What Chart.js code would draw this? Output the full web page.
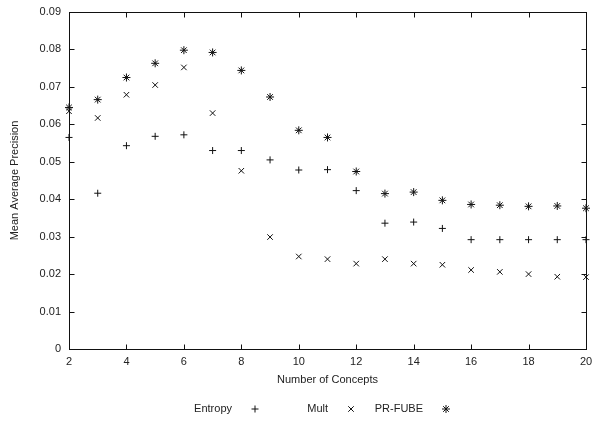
<!DOCTYPE html>
<html>
<head>
<meta charset="utf-8">
<script src="https://cdn.jsdelivr.net/npm/chart.js@4.4.1/dist/chart.umd.min.js"></script>
<style>
	body { margin: 0; background: #fff; }
	#chart { display: block; }
</style>
</head>
<body>
<canvas id="chart" width="592" height="421"></canvas>
<script>
var concepts = [2, 3, 4, 5, 6, 7, 8, 9, 10, 11, 12, 13, 14, 15, 16, 17, 18, 19, 20];
var entropy = [0.0565, 0.0416, 0.0543, 0.0568, 0.0572, 0.0530, 0.0530, 0.0505, 0.0478, 0.0479,
	0.0423, 0.0336, 0.0339, 0.0322, 0.0292, 0.0292, 0.0292, 0.0292, 0.0292];
var mult = [0.0635, 0.0617, 0.0679, 0.0705, 0.0752, 0.0630, 0.0476, 0.0299, 0.0247, 0.0240,
	0.0228, 0.0240, 0.0228, 0.0225, 0.0211, 0.0206, 0.0200, 0.0193, 0.0192];
var prFube = [0.0645, 0.0666, 0.0725, 0.0763, 0.0798, 0.0792, 0.0744, 0.0673, 0.0584, 0.0565,
	0.0474, 0.0415, 0.0419, 0.0397, 0.0386, 0.0384, 0.0381, 0.0382, 0.0376];
var seriesNames = ["Entropy", "Mult", "PR-FUBE"];
var xTicks = [2, 4, 6, 8, 10, 12, 14, 16, 18, 20];
var yTicks = [0, 0.01, 0.02, 0.03, 0.04, 0.05, 0.06, 0.07, 0.08, 0.09];

var FONT = "Liberation Sans, Arial, sans-serif";
var styles = ["cross", "crossRot", "star"];
var radii = [3.5, 3.9, 4];

function toPoints(values) {
	return concepts.map(function (c, i) {
		return { x: c, y: values[i] };
	});
}

// gnuplot-like frame: box border with inward ticks on every side, plus titles and key
var framePlugin = {
	id: "frame",
	afterDraw: function (chart) {
		var ctx = chart.ctx;
		var a = chart.chartArea;
		var xs = chart.scales.x;
		var ys = chart.scales.y;
		var L = Math.round(a.left) + 0.5, R = Math.round(a.right) + 0.5;
		var T = Math.round(a.top) + 0.5, B = Math.round(a.bottom) + 0.5;
		ctx.save();
		ctx.strokeStyle = "#111";
		ctx.lineWidth = 1;
		ctx.strokeRect(L, T, R - L, B - T);
		ctx.beginPath();
		xTicks.forEach(function (v) {
			var px = Math.round(xs.getPixelForValue(v)) + 0.5;
			ctx.moveTo(px, B); ctx.lineTo(px, B - 5);
			ctx.moveTo(px, T); ctx.lineTo(px, T + 5);
		});
		yTicks.forEach(function (v) {
			var py = Math.round(ys.getPixelForValue(v)) + 0.5;
			ctx.moveTo(L, py); ctx.lineTo(L + 5, py);
			ctx.moveTo(R, py); ctx.lineTo(R - 5, py);
		});
		ctx.stroke();

		ctx.fillStyle = "#222";
		ctx.font = "11px " + FONT;
		ctx.textAlign = "center";
		ctx.textBaseline = "middle";
		ctx.fillText("Number of Concepts", (a.left + a.right) / 2, 380);
		ctx.save();
		ctx.translate(15, (a.top + a.bottom) / 2);
		ctx.rotate(-Math.PI / 2);
		ctx.fillText("Mean Average Precision", 0, 0);
		ctx.restore();

		// key: name right-aligned, then the marker
		var keyX = [255, 351, 446];
		var keyY = 409;
		ctx.textAlign = "right";
		seriesNames.forEach(function (name, i) {
			ctx.fillStyle = "#222";
			ctx.fillText(name, keyX[i] - 23, keyY);
			ctx.strokeStyle = "#111";
			ctx.lineWidth = 1;
			Chart.helpers.drawPoint(ctx, {
				pointStyle: styles[i],
				radius: radii[i],
				rotation: 0,
				borderWidth: 1
			}, keyX[i], keyY);
		});
		ctx.restore();
	}
};

var datasets = [entropy, mult, prFube].map(function (values, i) {
	return {
		label: seriesNames[i],
		data: toPoints(values),
		showLine: false,
		pointStyle: styles[i],
		pointRadius: radii[i],
		pointBorderWidth: 1,
		pointBorderColor: "#111",
		pointBackgroundColor: "#111",
		clip: false
	};
});

new Chart(document.getElementById("chart"), {
	type: "scatter",
	data: { datasets: datasets },
	options: {
		responsive: false,
		animation: false,
		events: [],
		layout: { padding: { top: 12, right: 6, left: 0, bottom: 0 } },
		plugins: {
			legend: { display: false },
			tooltip: { enabled: false }
		},
		scales: {
			x: {
				type: "linear",
				min: 2,
				max: 20,
				afterBuildTicks: function (scale) {
					scale.ticks = xTicks.map(function (v) { return { value: v }; });
				},
				afterFit: function (scale) {
					scale.height = 72;
					scale.paddingLeft = 0;
					scale.paddingRight = 0;
				},
				grid: { display: false, drawTicks: false },
				border: { display: false },
				ticks: {
					padding: 6,
					color: "#222",
					font: { family: FONT, size: 11 },
					maxRotation: 0,
					autoSkip: false
				}
			},
			y: {
				type: "linear",
				min: 0,
				max: 0.09,
				afterBuildTicks: function (scale) {
					scale.ticks = yTicks.map(function (v) { return { value: v }; });
				},
				afterFit: function (scale) {
					scale.width = 69;
					scale.paddingTop = 0;
					scale.paddingBottom = 0;
				},
				grid: { display: false, drawTicks: false },
				border: { display: false },
				ticks: {
					padding: 8,
					color: "#222",
					font: { family: FONT, size: 11 },
					autoSkip: false,
					callback: function (v) { return v === 0 ? "0" : v.toFixed(2); }
				}
			}
		}
	},
	plugins: [framePlugin]
});
</script>
</body>
</html>
